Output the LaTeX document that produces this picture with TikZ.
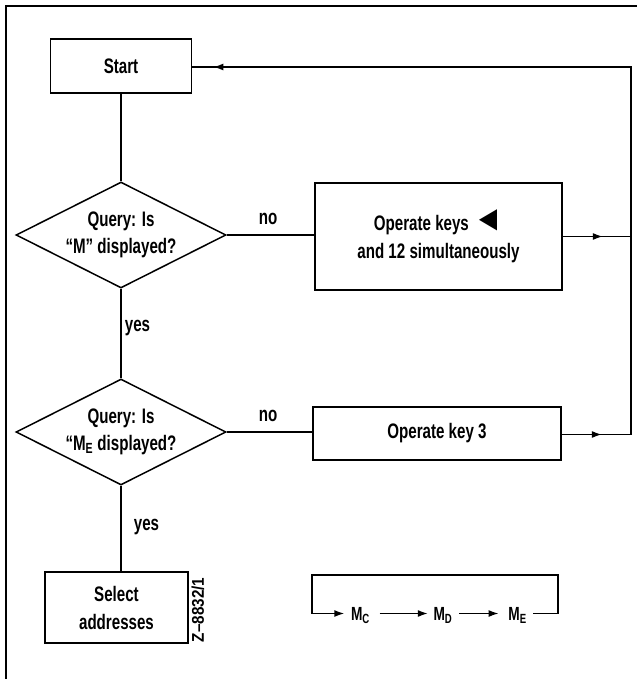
\documentclass[tikz,border=0pt]{standalone}
\usepackage{fontspec}
\setmainfont{Liberation Sans}[FakeStretch=0.72,BoldFont={* Bold}]
\newfontfamily\plainsans{Liberation Sans}[FakeStretch=0.9]
\usetikzlibrary{shapes.geometric,arrows.meta,decorations.markings}
\tikzset{ftip/.tip={Latex[length=10pt,width=7pt]}}
\begin{document}
\begin{tikzpicture}[x=1pt,y=-1pt,
  line width=1.5pt,
  box/.style={draw, line width=1.7pt, inner sep=0pt, align=center, font=\bfseries\fontsize{21}{28}\selectfont},
  dia/.style={draw, diamond, aspect=2, inner sep=0pt, minimum width=210pt, minimum height=106pt, align=center, font=\bfseries\fontsize{21}{27}\selectfont},
  lbl/.style={inner sep=0pt, font=\bfseries\fontsize{21}{27}\selectfont},
  mnode/.style={inner sep=0pt, text height=13pt, text depth=0pt, font=\bfseries\fontsize{19}{20}\selectfont},
]
\useasboundingbox (0,0) rectangle (637,679);
% frame
\draw[line width=1.2pt] (5,6) -- (637,6);
\draw[line width=1.2pt] (6,6) -- (6,679);

\node[box, minimum width=141pt, minimum height=54pt] (start) at (121,66) {Start};
\node[dia] (q1) at (121,235) {Query: Is\\“M” displayed?};
\node[box, minimum width=247pt, minimum height=107pt] (op1) at (438.5,236.5) {Operate keys \scalebox{2}[1.7]{◄}\\and 12 simultaneously};
\node[dia] (q2) at (121,432) {Query: Is\\“M\textsubscript{E} displayed?};
\node[box, minimum width=248pt, minimum height=53pt] (op3) at (437,433.5) {Operate key 3};
\node[box, minimum width=143pt, minimum height=71pt] (sel) at (116.5,607.5) {Select\\addresses};
\node[font=\plainsans\bfseries\fontsize{17}{17}\selectfont, rotate=90, inner sep=0pt] (code) at (198,610) {Z–8832/1};

\node[lbl] (no1) at (268,219) {no};
\node[lbl] (no2) at (268,416) {no};
\node[lbl] (yes1) at (137.5,328) {yes};
\node[lbl] (yes2) at (146.5,527) {yes};

\coordinate (rtop) at (631,67);
\coordinate (r3) at (631,434.5);

\draw (start.south) -- (q1.north);
\draw (q1.south) -- (q2.north);
\draw (q2.south) -- (q2.south |- sel.north);
\draw (q1.east) -- (q1.east -| op1.west);
\draw (q2.east) -- (q2.east -| op3.west);
\draw[postaction={decorate}, decoration={markings, mark=at position 40pt with {\arrow{ftip}}}]
  (op1.east) -- (op1.east -| rtop);
\draw[line join=miter, postaction={decorate}, decoration={markings,
    mark=at position 40pt with {\arrow{ftip}},
    mark=at position -21pt with {\arrow{ftip}}}]
  (op3.east |- r3) -- (r3) -- (rtop) -- (start.east |- rtop);

% M sequence
\node[mnode] (mc) at (360.5,613.5) {M\textsubscript{C}};
\node[mnode] (md) at (443,613.5) {M\textsubscript{D}};
\node[mnode] (me) at (517.5,613.5) {M\textsubscript{E}};
\coordinate (lr) at (558,575);
\coordinate (ll) at (312,575);
\draw[-{ftip}, line join=miter, shorten <=6pt, shorten >=6pt] (me.east) -| (lr) -- (ll) |- (mc.west);
\draw[-{ftip}, shorten <=9pt, shorten >=5pt] (mc.east) -- (md.west);
\draw[-{ftip}, shorten <=6pt, shorten >=9pt] (md.east) -- (me.west);
\end{tikzpicture}
\end{document}
